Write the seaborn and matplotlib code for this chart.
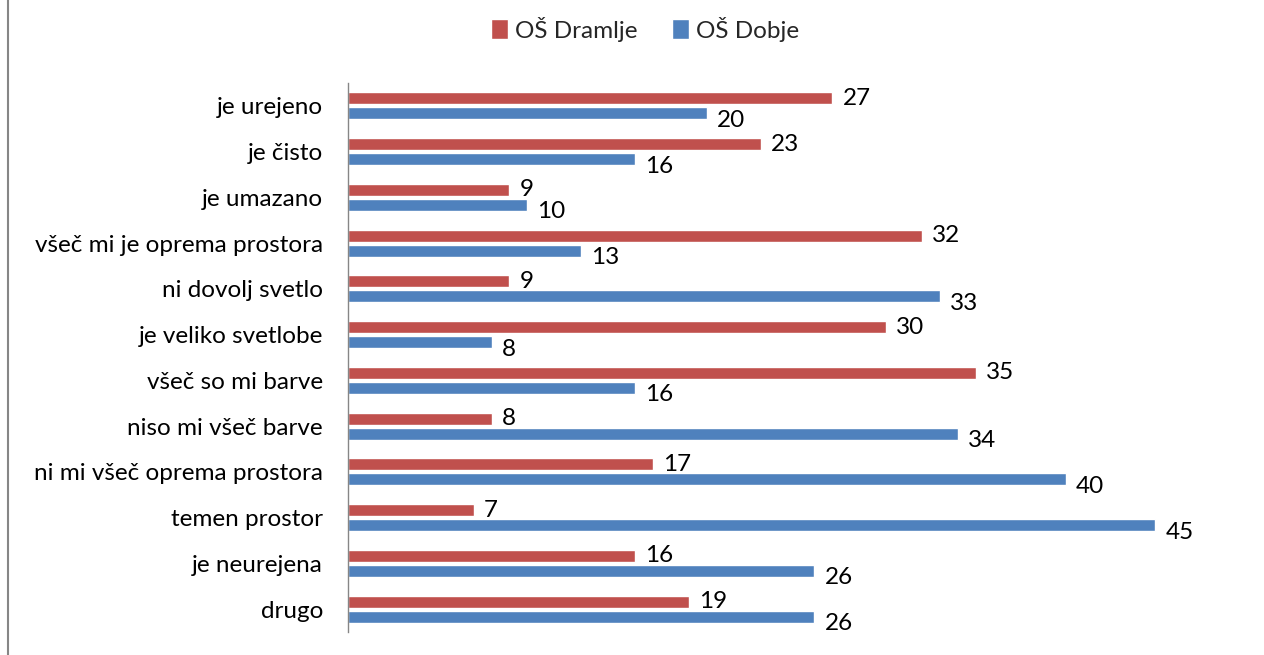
import matplotlib

matplotlib.use("Agg")

import matplotlib.pyplot as plt
import pandas as pd
import seaborn as sns
from matplotlib.lines import Line2D

# Data
categories = [
    "je urejeno",
    "je čisto",
    "je umazano",
    "všeč mi je oprema prostora",
    "ni dovolj svetlo",
    "je veliko svetlobe",
    "všeč so mi barve",
    "niso mi všeč barve",
    "ni mi všeč oprema prostora",
    "temen prostor",
    "je neurejena",
    "drugo",
]
dramlje = [27, 23, 9, 32, 9, 30, 35, 8, 17, 7, 16, 19]
dobje = [20, 16, 10, 13, 33, 8, 16, 34, 40, 45, 26, 26]
series = ["OŠ Dramlje", "OŠ Dobje"]
colors = ["#C0504D", "#4F81BD"]

df = pd.DataFrame(
    {
        "kategorija": categories * 2,
        "vrednost": dramlje + dobje,
        "sola": [series[0]] * len(categories) + [series[1]] * len(categories),
    }
)

sns.set_theme(style="white")
plt.rcParams["font.family"] = ["Lato", "DejaVu Sans"]
FS = 17.5

fig = plt.figure(figsize=(12.64, 6.55), dpi=100)
ax = fig.add_axes([348 / 1264, 23 / 655, 897 / 1264, 549 / 655])

sns.barplot(
    data=df,
    x="vrednost",
    y="kategorija",
    hue="sola",
    order=categories,
    hue_order=series,
    palette=colors,
    orient="h",
    width=0.66,
    gap=0.2,
    saturation=1,
    ax=ax,
)

# data labels: red centred on its bar, blue sits a little lower
for cont, dy in zip(ax.containers, [0, -7]):
    for bar in cont:
        w = bar.get_width()
        y = bar.get_y() + bar.get_height() / 2
        ax.annotate(
            f"{w:.0f}",
            xy=(w, y),
            xytext=(10, dy),
            textcoords="offset pixels",
            ha="left",
            va="center",
            fontsize=FS,
            color="black",
        )

ax.set_xlim(0, 50)
ax.set_ylim(11.5, -0.5)
ax.set_xlabel("")
ax.set_ylabel("")
ax.set_xticks([])
ax.tick_params(axis="y", length=0, pad=18, labelsize=FS)
for lab in ax.get_yticklabels():
    lab.set_color("black")

for side in ["top", "right", "bottom"]:
    ax.spines[side].set_visible(False)
ax.spines["left"].set_color("#868686")
ax.spines["left"].set_linewidth(1)

handles, labels = ax.get_legend_handles_labels()
ax.legend_.remove()
fig.legend(
    handles,
    labels,
    loc="center",
    bbox_to_anchor=(645 / 1264, 1 - 29 / 655),
    ncol=2,
    frameon=False,
    fontsize=FS,
    handlelength=0.7,
    handleheight=0.9,
    handletextpad=0.3,
    columnspacing=1.4,
)

# outer chart border (only the left edge is visible in the reference)
fig.add_artist(
    Line2D([8 / 1264, 8 / 1264], [0, 1], transform=fig.transFigure, color="#868686", lw=1.5)
)

fig.savefig("out.png", dpi=100)
